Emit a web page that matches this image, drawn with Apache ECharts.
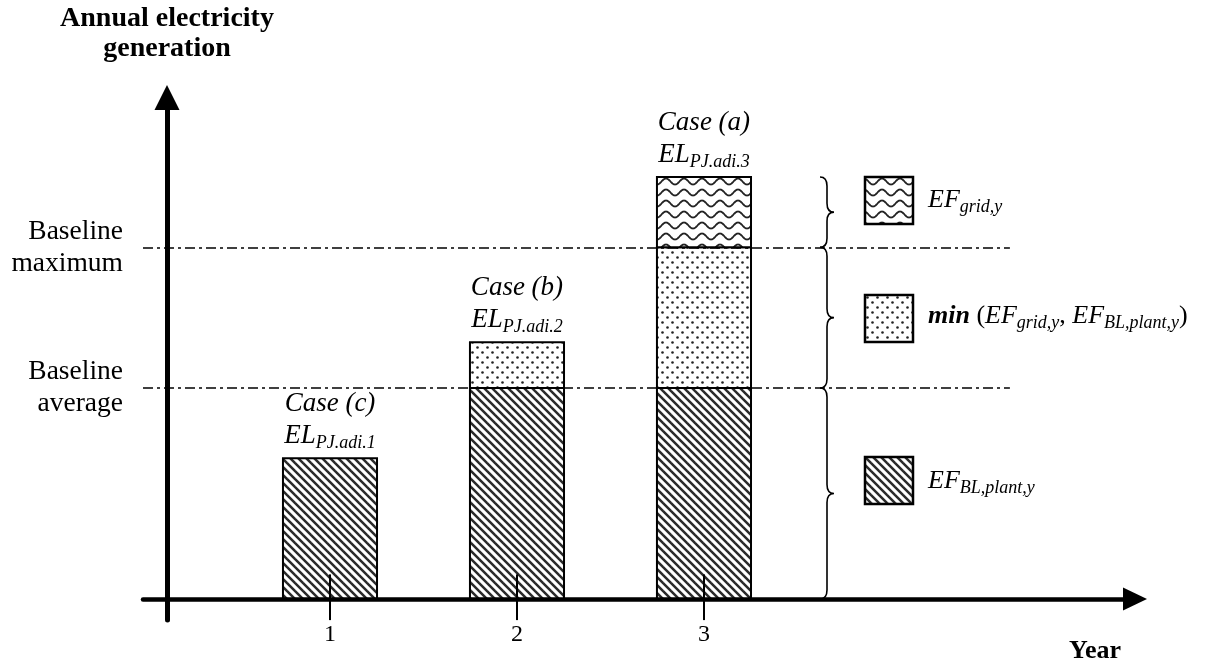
<!DOCTYPE html>
<html><head><meta charset="utf-8">
<script src="https://cdn.jsdelivr.net/npm/echarts@6/dist/echarts.min.js"></script>
<style>html,body{margin:0;padding:0;background:#fff}#c{width:1208px;height:664px}</style>
</head><body><div id="c"></div>
<script>
// ---- data ----
const years = [1, 2, 3];
const xTickLabels = ['1', '2', '3'];
const blPlant = [40, 60, 60];        // EF_BL,plant,y segment
const minPart = [0, 13, 40];         // min(EF_grid,y, EF_BL,plant,y) segment
const gridPart = [0, 0, 20];         // EF_grid,y segment
const baselineAverage = 60;
const baselineMaximum = 100;
const yTickValues = [baselineAverage, baselineMaximum];
const yTickLabels = ['Baseline\naverage', 'Baseline\nmaximum'];
const caseNames = ['Case (c)', 'Case (b)', 'Case (a)'];
const caseSubs = ['PJ.adi.1', 'PJ.adi.2', 'PJ.adi.3'];

const totals = years.map((y, i) => blPlant[i] + minPart[i] + gridPart[i]);
// stacked segments [year, from, to, patternIndex]
const segments = [];
years.forEach((y, i) => {
  let base = 0;
  [blPlant[i], minPart[i], gridPart[i]].forEach((v, k) => {
    if (v > 0) { segments.push([y, base, base + v, k]); base += v; }
  });
});

// ---- patterns ----
function makeCanvas(w, h) { const c = document.createElement('canvas'); c.width = w; c.height = h; const g = c.getContext('2d'); g.fillStyle = '#fff'; g.fillRect(0, 0, w, h); return [c, g]; }
function diagPattern() {
  const s = 8; const [c, g] = makeCanvas(s, s);
  g.strokeStyle = '#2a2a2a'; g.lineWidth = 2.5;
  [-s, 0, s].forEach(o => { g.beginPath(); g.moveTo(o - 1, -1); g.lineTo(o + s + 1, s + 1); g.stroke(); });
  return { image: c, repeat: 'repeat' };
}
function dotPattern() {
  const s = 10; const [c, g] = makeCanvas(s, s);
  g.fillStyle = '#222';
  [[2.5, 2.5], [7.5, 7.5]].forEach(p => { g.beginPath(); g.arc(p[0], p[1], 1.3, 0, Math.PI * 2); g.fill(); });
  return { image: c, repeat: 'repeat' };
}
function wavePattern() {
  const w = 18, h = 11; const [c, g] = makeCanvas(w, h);
  g.strokeStyle = '#222'; g.lineWidth = 1.8;
  g.beginPath();
  for (let x = -1; x <= w + 1; x += 0.5) {
    const y = 5.5 - 3 * Math.cos(2 * Math.PI * x / w);
    if (x === -1) g.moveTo(x, y); else g.lineTo(x, y);
  }
  g.stroke();
  return { image: c, repeat: 'repeat' };
}
const PATTERNS = [diagPattern(), dotPattern(), wavePattern()];
const [DIAG, DOTS, WAVE] = PATTERNS;

const SERIF = '"Liberation Serif", "Times New Roman", serif';
const subRich = (size) => ({ fontFamily: SERIF, fontStyle: 'italic', fontSize: size, lineHeight: size, padding: [14, 0, 0, 0], color: '#000' });
const mainRich = (size) => ({ fontFamily: SERIF, fontStyle: 'italic', fontSize: size, lineHeight: size + 4, color: '#000' });

const chart = echarts.init(document.getElementById('c'), null, { renderer: 'canvas' });

const option = {
  animation: false,
  backgroundColor: '#fff',
  grid: { left: 143, right: 73, top: 97.5, bottom: 43.9, containLabel: false },
  xAxis: {
    type: 'value', min: 0, max: 5.305, interval: 1, z: 10,
    axisLine: { onZero: true, lineStyle: { color: '#000', width: 4.5 }, symbol: ['none', 'triangle'], symbolSize: [23, 24] },
    axisTick: { show: false }, splitLine: { show: false },
    axisLabel: {
      customValues: years, margin: 3, color: '#000', fontFamily: SERIF, fontSize: 24,
      formatter: v => { const i = years.indexOf(v); return i >= 0 ? xTickLabels[i] : ''; }
    },
    name: 'Year', nameLocation: 'end', nameGap: -40,
    nameTextStyle: { fontFamily: SERIF, fontWeight: 'bold', fontSize: 26, color: '#000', align: 'center', verticalAlign: 'top', padding: [39, 0, 0, 0] }
  },
  yAxis: {
    type: 'value', min: -6, max: 142.6, offset: -24, z: 10,
    axisLine: { onZero: false, lineStyle: { color: '#000', width: 5 }, symbol: ['none', 'triangle'], symbolSize: [25, 25] },
    axisTick: { show: false }, splitLine: { show: false },
    axisLabel: {
      customValues: yTickValues, margin: 44, color: '#000', fontFamily: SERIF, fontSize: 27.5, lineHeight: 32, align: 'right',
      formatter: v => { const i = yTickValues.indexOf(v); return i >= 0 ? yTickLabels[i] : ''; }
    },
    name: 'Annual electricity\ngeneration', nameLocation: 'end', nameGap: 34,
    nameTextStyle: { fontFamily: SERIF, fontWeight: 'bold', fontSize: 28, lineHeight: 30, color: '#000', align: 'center' }
  },
  series: [
    {
      type: 'line', silent: true, symbol: 'none', z: 1, data: [],
      markLine: {
        silent: true, symbol: 'none', label: { show: false },
        lineStyle: { color: '#000', width: 1.5, type: [10, 4, 3, 4] },
        data: yTickValues.map(v => [{ coord: [0, v] }, { coord: [4.636, v] }])
      }
    },
    {
      // stacked bar segments
      type: 'custom', silent: true, z: 3,
      data: segments,
      renderItem: (params, api) => {
        const x = api.value(0);
        const top = api.coord([x, api.value(2)]);
        const bot = api.coord([x, api.value(1)]);
        const w = api.size([1, 0])[0] * 0.503;
        return {
          type: 'rect',
          shape: { x: top[0] - w / 2, y: top[1], width: w, height: bot[1] - top[1] },
          style: { fill: PATTERNS[api.value(3)], stroke: '#000', lineWidth: 2 }
        };
      }
    },
    {
      // tick marks through the bars
      type: 'custom', silent: true, z: 12,
      data: years.map(y => [y]),
      renderItem: (params, api) => {
        const a = api.coord([api.value(0), 7]);
        const b = api.coord([api.value(0), -6]);
        return { type: 'line', shape: { x1: a[0], y1: a[1], x2: b[0], y2: b[1] }, style: { stroke: '#000', lineWidth: 2 } };
      }
    },
    {
      // case labels
      type: 'custom', silent: true, z: 12,
      data: years.map((y, i) => [y, totals[i], i]),
      renderItem: (params, api) => {
        const p = api.coord([api.value(0), api.value(1)]);
        const i = api.value(2);
        return {
          type: 'group', children: [
            { type: 'text', x: p[0], y: p[1] - 54, style: { text: caseNames[i], fontFamily: SERIF, fontStyle: 'italic', fontSize: 27, fill: '#000', align: 'center', verticalAlign: 'middle' } },
            { type: 'text', x: p[0], y: p[1] - 22, style: { text: '{a|EL}{b|' + caseSubs[i] + '}', rich: { a: mainRich(27), b: subRich(18) }, align: 'center', verticalAlign: 'middle' } }
          ]
        };
      }
    },
    {
      // braces
      type: 'custom', silent: true, z: 12,
      data: [[0, baselineAverage], [baselineAverage, baselineMaximum], [baselineMaximum, totals[2]]],
      renderItem: (params, api) => {
        const b = api.coord([0, api.value(0)])[1];
        const t = api.coord([0, api.value(1)])[1];
        const m = (t + b) / 2;
        const x0 = 820, xm = 827, xt = 834, r = 9;
        const d = `M${x0},${t} Q${xm},${t} ${xm},${t + r} L${xm},${m - r} Q${xm},${m} ${xt},${m} Q${xm},${m} ${xm},${m + r} L${xm},${b - r} Q${xm},${b} ${x0},${b}`;
        return { type: 'path', shape: { pathData: d }, style: { stroke: '#000', lineWidth: 1.6, fill: null } };
      }
    }
  ],
  graphic: [
    { type: 'rect', shape: { x: 865, y: 177, width: 48, height: 47 }, style: { fill: WAVE, stroke: '#000', lineWidth: 2.5 }, z: 20 },
    { type: 'text', x: 928, y: 200, z: 20, style: { text: '{e|EF}{s|grid,y}', rich: { e: mainRich(26), s: subRich(18) }, verticalAlign: 'middle' } },
    { type: 'rect', shape: { x: 865, y: 295, width: 48, height: 47 }, style: { fill: DOTS, stroke: '#000', lineWidth: 2.5 }, z: 20 },
    { type: 'text', x: 928, y: 316, z: 20, style: {
        text: '{m|min}{n| (}{e|EF}{s|grid,y}{n|, }{e|EF}{s|BL,plant,y}{n|)}',
        rich: { m: Object.assign(mainRich(26), { fontWeight: 'bold' }), n: { fontFamily: SERIF, fontSize: 26, lineHeight: 30, color: '#000' }, e: mainRich(26), s: subRich(18) },
        verticalAlign: 'middle' } },
    { type: 'rect', shape: { x: 865, y: 457, width: 48, height: 47 }, style: { fill: DIAG, stroke: '#000', lineWidth: 2.5 }, z: 20 },
    { type: 'text', x: 928, y: 481, z: 20, style: { text: '{e|EF}{s|BL,plant,y}', rich: { e: mainRich(26), s: subRich(18) }, verticalAlign: 'middle' } }
  ]
};
chart.setOption(option);
</script>
</body></html>
